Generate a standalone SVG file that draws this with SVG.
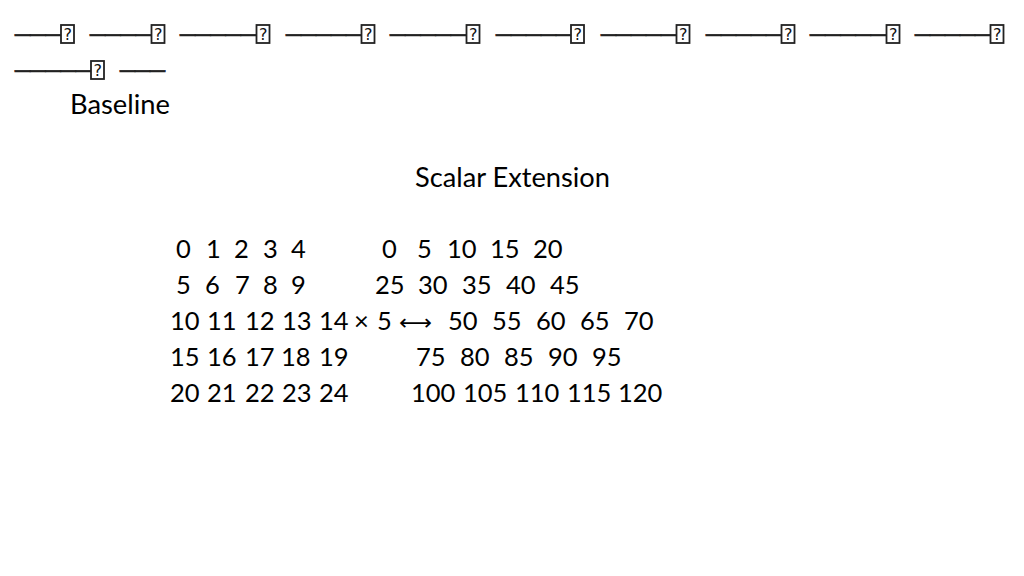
<svg xmlns="http://www.w3.org/2000/svg" width="1024" height="576" viewBox="0 0 1024 576">
<style>
.bar{font-family:"DejaVu Sans",sans-serif;font-size:20px;fill:#222;stroke:#222;stroke-width:0.5}
.tofu{fill:#fff;stroke:#222;stroke-width:1.8}
.q{font-family:"DejaVu Sans Mono",monospace;font-size:16px;fill:#111;text-anchor:middle}
.t{font-family:Lato,"Open Sans",sans-serif;font-size:26px;fill:#000}
.m{font-family:Lato,"Open Sans",sans-serif;font-size:25.5px;fill:#000}
.sym{font-family:"DejaVu Sans",sans-serif;font-size:22px;fill:#000}
</style>
<rect width="1024" height="576" fill="#fff"/>
<g id="header">
<text class="bar" y="42"><tspan x="15" textLength="46" lengthAdjust="spacingAndGlyphs">───</tspan></text>
<text class="bar" y="42"><tspan x="90" textLength="61" lengthAdjust="spacingAndGlyphs">────</tspan></text>
<text class="bar" y="42"><tspan x="180" textLength="76" lengthAdjust="spacingAndGlyphs">─────</tspan></text>
<text class="bar" y="42"><tspan x="286" textLength="75" lengthAdjust="spacingAndGlyphs">─────</tspan></text>
<text class="bar" y="42"><tspan x="390" textLength="76" lengthAdjust="spacingAndGlyphs">─────</tspan></text>
<text class="bar" y="42"><tspan x="496" textLength="75" lengthAdjust="spacingAndGlyphs">─────</tspan></text>
<text class="bar" y="42"><tspan x="601" textLength="75" lengthAdjust="spacingAndGlyphs">─────</tspan></text>
<text class="bar" y="42"><tspan x="706" textLength="75" lengthAdjust="spacingAndGlyphs">─────</tspan></text>
<text class="bar" y="42"><tspan x="810" textLength="76" lengthAdjust="spacingAndGlyphs">─────</tspan></text>
<text class="bar" y="42"><tspan x="915" textLength="75" lengthAdjust="spacingAndGlyphs">─────</tspan></text>
<text class="bar" y="78"><tspan x="15" textLength="76" lengthAdjust="spacingAndGlyphs">─────</tspan></text>
<text class="bar" y="78"><tspan x="120" textLength="45" lengthAdjust="spacingAndGlyphs">───</tspan></text>
<g id="tofu">
<rect class="tofu" x="61" y="25" width="13" height="18"/><text class="q" x="67.5" y="40">?</text>
<rect class="tofu" x="151.5" y="25" width="13" height="18"/><text class="q" x="158" y="40">?</text>
<rect class="tofu" x="256.5" y="25" width="13" height="18"/><text class="q" x="263" y="40">?</text>
<rect class="tofu" x="361.5" y="25" width="13" height="18"/><text class="q" x="368" y="40">?</text>
<rect class="tofu" x="466.5" y="25" width="13" height="18"/><text class="q" x="473" y="40">?</text>
<rect class="tofu" x="571" y="25" width="13" height="18"/><text class="q" x="577.5" y="40">?</text>
<rect class="tofu" x="676.5" y="25" width="13" height="18"/><text class="q" x="683" y="40">?</text>
<rect class="tofu" x="781.5" y="25" width="13" height="18"/><text class="q" x="788" y="40">?</text>
<rect class="tofu" x="886.5" y="25" width="13" height="18"/><text class="q" x="893" y="40">?</text>
<rect class="tofu" x="990.5" y="25" width="13" height="18"/><text class="q" x="997" y="40">?</text>
<rect class="tofu" x="91" y="61" width="13" height="18"/><text class="q" x="97.5" y="76">?</text>
</g>
</g>
<g id="titles">
<text class="t" x="70" y="114" textLength="100" lengthAdjust="spacingAndGlyphs">Baseline</text>
<text class="t" x="415" y="187" textLength="195" lengthAdjust="spacingAndGlyphs">Scalar Extension</text>
</g>
<g id="matrix-left">
<text class="m" y="258"><tspan x="176">0</tspan><tspan x="206">1</tspan><tspan x="234">2</tspan><tspan x="263">3</tspan><tspan x="291">4</tspan></text>
<text class="m" y="294"><tspan x="176">5</tspan><tspan x="205">6</tspan><tspan x="235">7</tspan><tspan x="263">8</tspan><tspan x="291">9</tspan></text>
<text class="m" y="330"><tspan x="170">10</tspan><tspan x="207">11</tspan><tspan x="245">12</tspan><tspan x="282">13</tspan><tspan x="319">14</tspan></text>
<text class="m" y="366"><tspan x="170">15</tspan><tspan x="207">16</tspan><tspan x="245">17</tspan><tspan x="281">18</tspan><tspan x="319">19</tspan></text>
<text class="m" y="402"><tspan x="170">20</tspan><tspan x="207">21</tspan><tspan x="245">22</tspan><tspan x="282">23</tspan><tspan x="319">24</tspan></text>
</g>
<g id="operator">
<text class="m" y="330"><tspan x="354">×</tspan><tspan x="377">5</tspan></text>
<text class="sym" x="399" y="330" textLength="33" lengthAdjust="spacingAndGlyphs">⟷</text>
</g>
<g id="matrix-right">
<text class="m" y="258"><tspan x="382">0</tspan><tspan x="417">5</tspan><tspan x="447">10</tspan><tspan x="490">15</tspan><tspan x="533">20</tspan></text>
<text class="m" y="294"><tspan x="375">25</tspan><tspan x="418">30</tspan><tspan x="462">35</tspan><tspan x="506">40</tspan><tspan x="550">45</tspan></text>
<text class="m" y="330"><tspan x="448">50</tspan><tspan x="492">55</tspan><tspan x="536">60</tspan><tspan x="580">65</tspan><tspan x="624">70</tspan></text>
<text class="m" y="366"><tspan x="416">75</tspan><tspan x="460">80</tspan><tspan x="504">85</tspan><tspan x="548">90</tspan><tspan x="592">95</tspan></text>
<text class="m" y="402"><tspan x="411">100</tspan><tspan x="463">105</tspan><tspan x="515">110</tspan><tspan x="567">115</tspan><tspan x="618">120</tspan></text>
</g>
</svg>
